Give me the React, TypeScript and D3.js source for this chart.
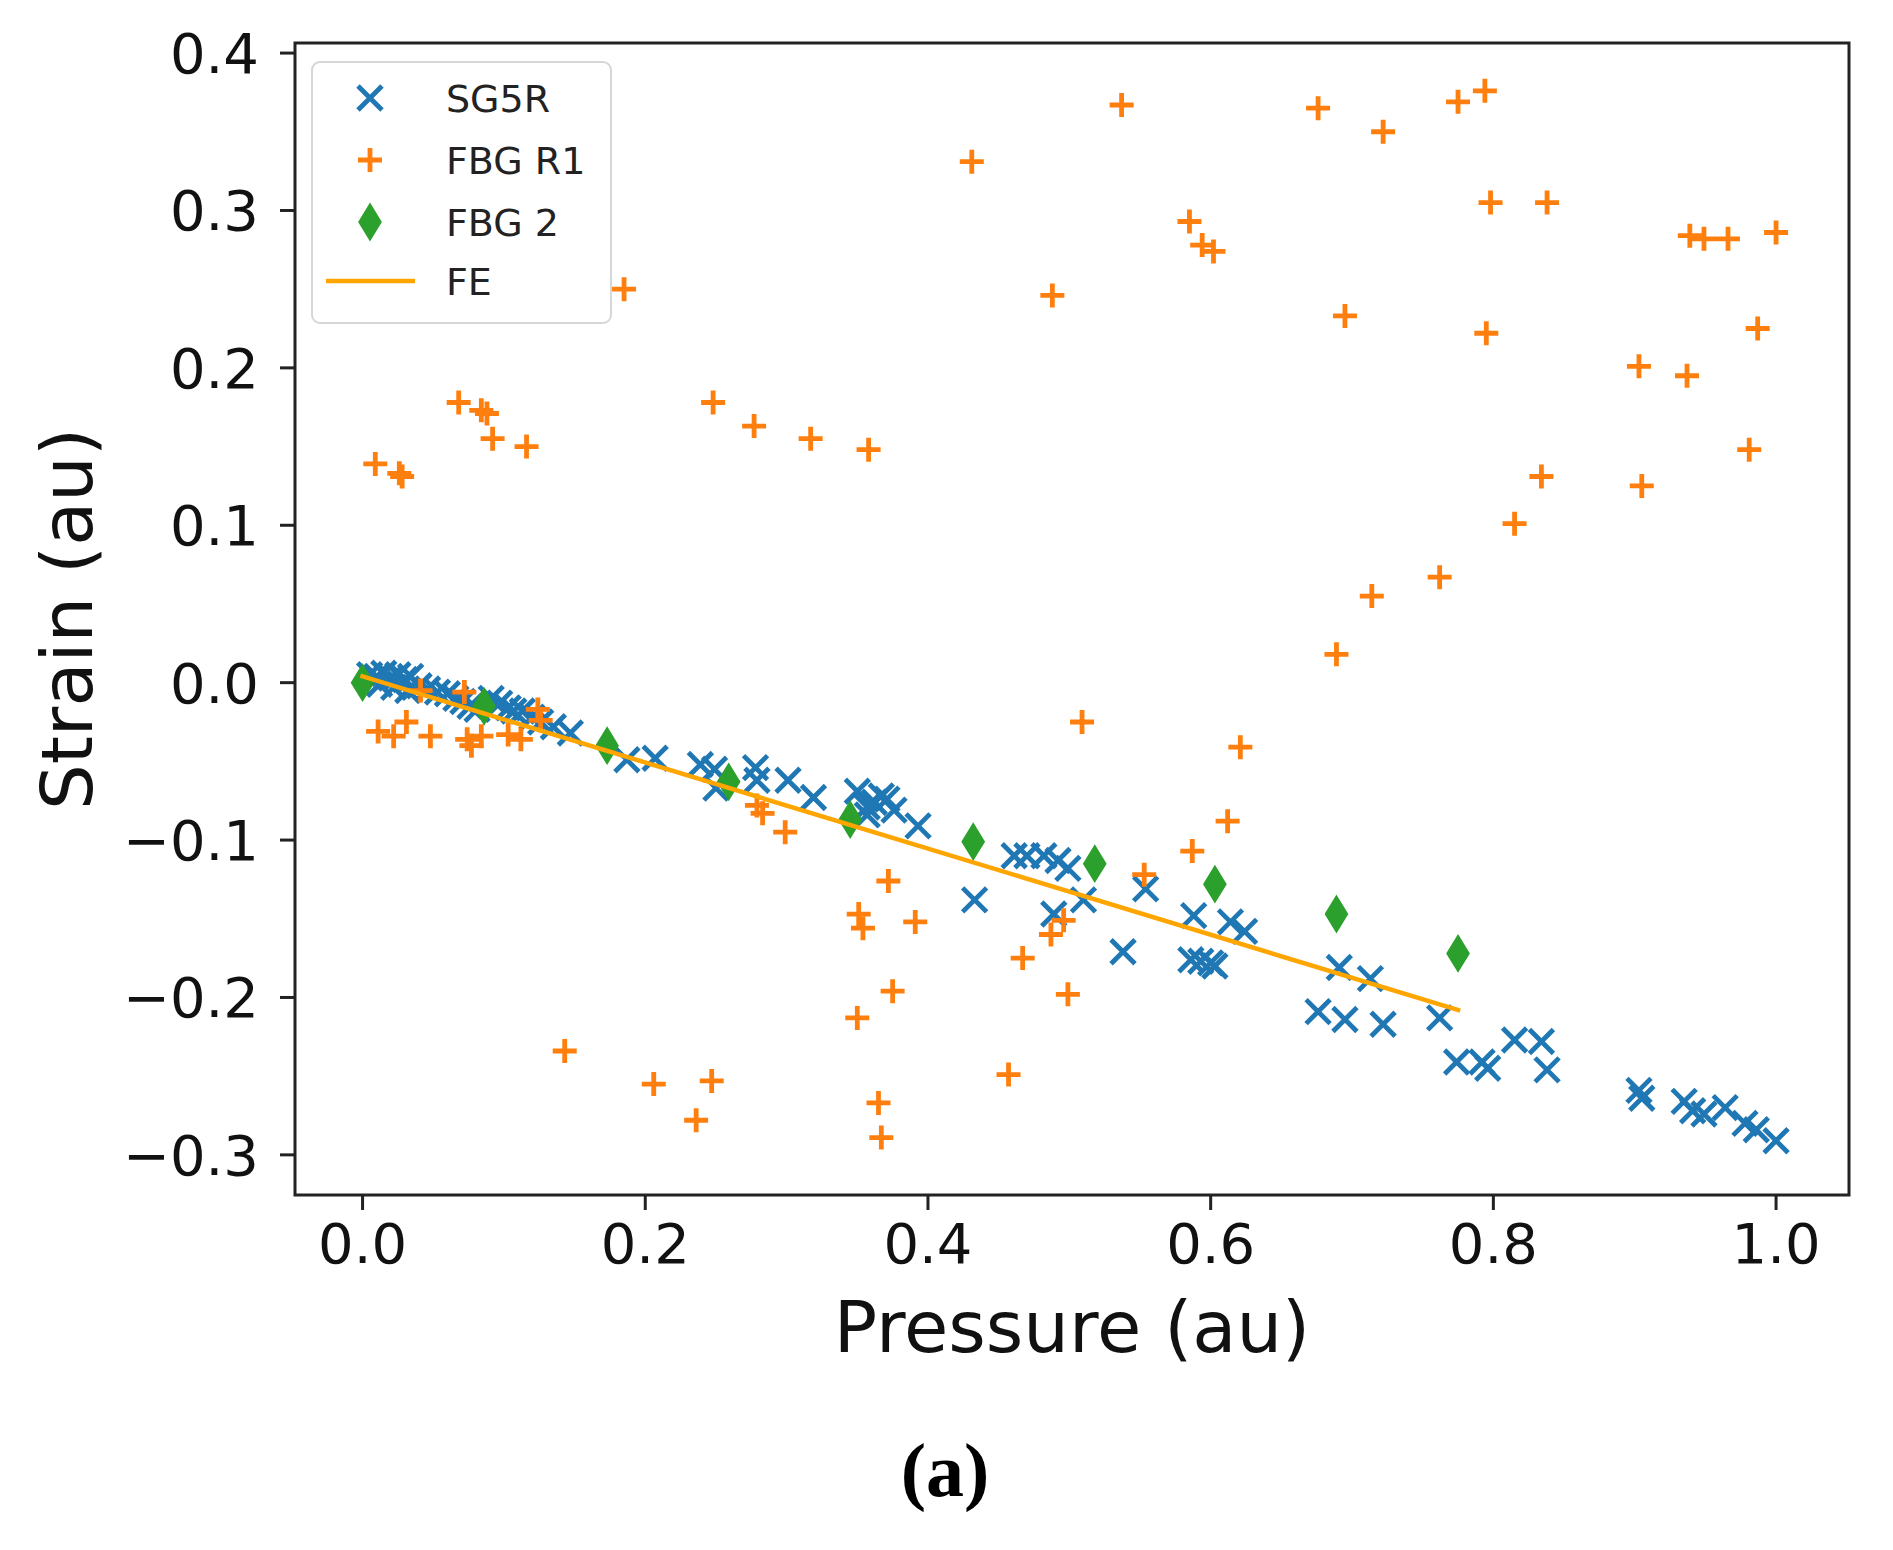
import React from 'react';
import * as d3 from 'd3';

// ---------- data ----------
const sg5r: [number, number][] = [
  [0.005, 0.005], [0.010, 0.004], [0.015, 0.006], [0.020, 0.003], [0.025, 0.005],
  [0.030, 0.002], [0.034, 0.004], [0.012, -0.001], [0.022, -0.003], [0.032, -0.005],
  [0.040, -0.002], [0.046, -0.004], [0.053, -0.006], [0.060, -0.007], [0.066, -0.010],
  [0.071, -0.012], [0.076, -0.015], [0.081, -0.017], [0.091, -0.010], [0.097, -0.013],
  [0.103, -0.016], [0.107, -0.018], [0.113, -0.018], [0.120, -0.022], [0.126, -0.025],
  [0.135, -0.028], [0.147, -0.032],
  [0.187, -0.049], [0.207, -0.048], [0.239, -0.052], [0.249, -0.055], [0.250, -0.067],
  [0.278, -0.054], [0.279, -0.062], [0.301, -0.062], [0.319, -0.073], [0.350, -0.069],
  [0.357, -0.079], [0.357, -0.084], [0.362, -0.076], [0.367, -0.072], [0.371, -0.074],
  [0.376, -0.081], [0.393, -0.091],
  [0.433, -0.138], [0.461, -0.110], [0.470, -0.110], [0.482, -0.110], [0.492, -0.113],
  [0.499, -0.118], [0.489, -0.147], [0.510, -0.138], [0.538, -0.171], [0.554, -0.131],
  [0.588, -0.148], [0.614, -0.152], [0.624, -0.158], [0.586, -0.176], [0.593, -0.177],
  [0.600, -0.178], [0.603, -0.180],
  [0.691, -0.181], [0.713, -0.188], [0.676, -0.209], [0.695, -0.214], [0.722, -0.217],
  [0.762, -0.213], [0.774, -0.241], [0.792, -0.241], [0.796, -0.245], [0.815, -0.227],
  [0.834, -0.228], [0.838, -0.246], [0.903, -0.259], [0.905, -0.264], [0.935, -0.266],
  [0.941, -0.272], [0.949, -0.274], [0.964, -0.270], [0.978, -0.280], [0.986, -0.284],
  [1.000, -0.291],
];

const fbgR1: [number, number][] = [
  [0.185, 0.250], [0.009, 0.139], [0.026, 0.133], [0.028, 0.131],
  [0.068, 0.178], [0.084, 0.173], [0.088, 0.171], [0.092, 0.155], [0.116, 0.150],
  [0.248, 0.178], [0.277, 0.163], [0.317, 0.155], [0.358, 0.148],
  [0.431, 0.331], [0.488, 0.246], [0.537, 0.367], [0.585, 0.293], [0.594, 0.278],
  [0.602, 0.274], [0.676, 0.365], [0.722, 0.350], [0.695, 0.233], [0.775, 0.369],
  [0.794, 0.376], [0.798, 0.305], [0.838, 0.305], [0.795, 0.222],
  [0.939, 0.284], [0.949, 0.282], [0.966, 0.282], [1.000, 0.286],
  [0.987, 0.225], [0.903, 0.201], [0.937, 0.195], [0.981, 0.148], [0.834, 0.131],
  [0.905, 0.125], [0.815, 0.101], [0.762, 0.067], [0.714, 0.055], [0.689, 0.018],
  [0.509, -0.025], [0.621, -0.041], [0.612, -0.088], [0.587, -0.107], [0.553, -0.122],
  [0.279, -0.078], [0.283, -0.083], [0.299, -0.095],
  [0.351, -0.147], [0.354, -0.156], [0.372, -0.126], [0.391, -0.152], [0.375, -0.196],
  [0.350, -0.213], [0.496, -0.151], [0.487, -0.160], [0.467, -0.175], [0.499, -0.198],
  [0.143, -0.234], [0.206, -0.255], [0.247, -0.253], [0.236, -0.278], [0.365, -0.267],
  [0.367, -0.289], [0.457, -0.249],
  [0.011, -0.031], [0.022, -0.034], [0.031, -0.025], [0.048, -0.034], [0.074, -0.036],
  [0.077, -0.040], [0.084, -0.034], [0.103, -0.033], [0.112, -0.036], [0.041, -0.005],
  [0.072, -0.006], [0.124, -0.017], [0.126, -0.024],
];

const fbg2X = [0, 0.086, 0.173, 0.259, 0.345, 0.432, 0.518, 0.603, 0.689, 0.775];
const fbg2Y = [0, -0.015, -0.040, -0.063, -0.087, -0.101, -0.115, -0.128, -0.147, -0.172];

const feX = [0, 0.775];
const feY = [0.004, -0.208];

const xTicks = [0, 0.2, 0.4, 0.6, 0.8, 1.0];
const yTicks = [-0.3, -0.2, -0.1, 0, 0.1, 0.2, 0.3, 0.4];

const legendLabels = ['SG5R', 'FBG R1', 'FBG 2', 'FE'];

// ---------- styling ----------
const W = 1893;
const H = 1550;
const PL = 295, PR = 1849, PT = 43, PB = 1195;
const BLUE = '#1f77b4';
const ORANGE = '#ff7f0e';
const GREEN = '#2ca02c';
const FE_COLOR = '#ffa500';
const FONT = '"DejaVu Sans", Verdana, sans-serif';

const fmt = (v: number) => {
  const s = Math.abs(v).toFixed(1);
  return v < -1e-9 ? '\u2212' + s : s;
};

const crossPath = (h: number) => `M${-h},${-h}L${h},${h}M${-h},${h}L${h},${-h}`;
const plusPath = (h: number) => `M${-h},0H${h}M0,${-h}V${h}`;
const diamondPath = (w: number, h: number) => `M0,${-h}L${w},0L0,${h}L${-w},0Z`;

export default function App() {
  const x = d3.scaleLinear().domain([-0.0478, 1.0516]).range([PL, PR]);
  const y = d3.scaleLinear().domain([-0.3255, 0.4064]).range([PB, PT]);

  const feLine = d3
    .line<number>()
    .x((_, i) => x(feX[i]))
    .y((_, i) => y(feY[i]))(feX) as string;

  const legendRows = [98, 160, 222, 281];
  const legendMarkerX = 370;
  const legendTextX = 446;

  return (
    <div style={{ position: 'absolute', left: 0, top: 0 }}>
      <svg width={W} height={H} viewBox={`0 0 ${W} ${H}`} style={{ display: 'block', background: '#fff' }}>
        <rect x={0} y={0} width={W} height={H} fill="#fff" />
        <defs>
          <clipPath id="plotClip">
            <rect x={PL} y={PT} width={PR - PL} height={PB - PT} />
          </clipPath>
        </defs>

        <g clipPath="url(#plotClip)">
          {sg5r.map(([a, b], i) => (
            <path
              key={'s' + i}
              d={crossPath(12)}
              transform={`translate(${x(a)},${y(b)})`}
              stroke={BLUE}
              strokeWidth={4.8}
              fill="none"
            />
          ))}
          {fbgR1.map(([a, b], i) => (
            <path
              key={'f' + i}
              d={plusPath(12)}
              transform={`translate(${x(a)},${y(b)})`}
              stroke={ORANGE}
              strokeWidth={4.8}
              fill="none"
            />
          ))}
          {fbg2X.map((a, i) => (
            <path
              key={'g' + i}
              d={diamondPath(11, 18)}
              transform={`translate(${x(a)},${y(fbg2Y[i])})`}
              fill={GREEN}
              stroke={GREEN}
              strokeWidth={1.5}
            />
          ))}
          <path d={feLine} stroke={FE_COLOR} strokeWidth={4.5} fill="none" strokeLinecap="square" />
        </g>

        <rect x={PL} y={PT} width={PR - PL} height={PB - PT} fill="none" stroke="#222" strokeWidth={3} />

        {xTicks.map((t) => (
          <g key={'xt' + t}>
            <line x1={x(t)} x2={x(t)} y1={PB} y2={PB + 15} stroke="#222" strokeWidth={3} />
            <text x={x(t)} y={1263} textAnchor="middle" fontFamily={FONT} fontSize={56} fill="#111">
              {fmt(t)}
            </text>
          </g>
        ))}
        {yTicks.map((t) => (
          <g key={'yt' + t}>
            <line x1={PL - 15} x2={PL} y1={y(t)} y2={y(t)} stroke="#222" strokeWidth={3} />
            <text x={259} y={y(t) + 20} textAnchor="end" fontFamily={FONT} fontSize={56} fill="#111">
              {fmt(t)}
            </text>
          </g>
        ))}

        <text x={(PL + PR) / 2} y={1352} textAnchor="middle" fontFamily={FONT} fontSize={72} fill="#111">
          Pressure (au)
        </text>
        <text
          transform={`translate(92,${(PT + PB) / 2}) rotate(-90)`}
          textAnchor="middle"
          fontFamily={FONT}
          fontSize={72}
          fill="#111"
        >
          Strain (au)
        </text>

        <rect x={312} y={62} width={299} height={261} rx={8} ry={8} fill="#fff" fillOpacity={0.8} stroke="#d6d6d6" strokeWidth={2} />
        <path d={crossPath(12)} transform={`translate(${legendMarkerX},${legendRows[0]})`} stroke={BLUE} strokeWidth={4.8} fill="none" />
        <path d={plusPath(12)} transform={`translate(${legendMarkerX},${legendRows[1]})`} stroke={ORANGE} strokeWidth={4.8} fill="none" />
        <path d={diamondPath(11, 18)} transform={`translate(${legendMarkerX},${legendRows[2]})`} fill={GREEN} stroke={GREEN} strokeWidth={1.5} />
        <line x1={326} x2={415} y1={legendRows[3]} y2={legendRows[3]} stroke={FE_COLOR} strokeWidth={4.5} />
        {legendLabels.map((lab, i) => (
          <text key={lab} x={legendTextX} y={legendRows[i] + 14} fontFamily={FONT} fontSize={38} fill="#222">
            {lab}
          </text>
        ))}

        <text x={945} y={1496} textAnchor="middle" fontFamily='"Liberation Serif", "Times New Roman", serif' fontWeight="bold" fontSize={76} fill="#000">
          (a)
        </text>
      </svg>
    </div>
  );
}
